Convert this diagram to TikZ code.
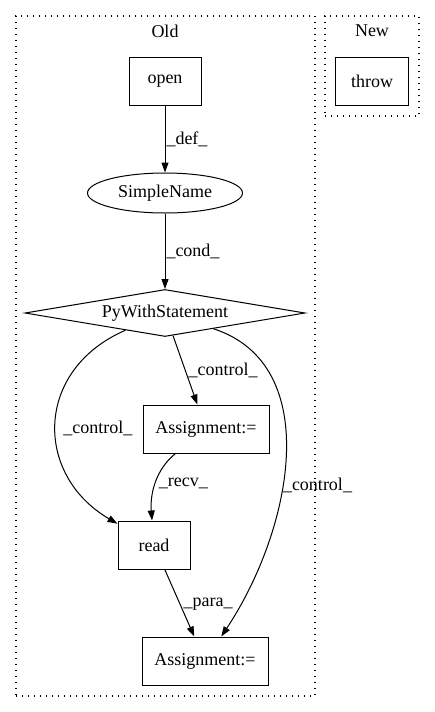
\documentclass[tikz,border=0pt]{standalone}
\usepackage{fontspec}
\setmainfont{Liberation Serif}
\usetikzlibrary{shapes.geometric,arrows.meta}
\begin{document}
\begin{tikzpicture}[x=1pt,y=-1pt,
  font=\fontsize{18}{20}\selectfont,
  every path/.style={line width=1pt},
  cluster/.style={draw, dash pattern=on 1pt off 5pt, line width=1.1pt, inner sep=0, minimum width=#1},
  box/.style={draw, rectangle, inner sep=0, minimum height=48pt, minimum width=#1},
  ell/.style={draw, ellipse, inner sep=0, minimum width=155pt, minimum height=40pt},
  dia/.style={draw, diamond, aspect=6, inner sep=0, minimum width=280pt, minimum height=47pt},
  edge/.style={draw, -{Triangle[length=10pt,width=7pt]}},
  lab/.style={inner sep=0pt, anchor=west}
]
\useasboundingbox (0,0) rectangle (435,712);
% clusters
\node[cluster=299pt, minimum height=680pt] (old) at (165.5,356) {};
\node[cluster=94pt, minimum height=100pt] (new) at (372,66) {};
\node (oldt) at (165,31) {Old};
\node (newt) at (372,31) {New};
% nodes
\node[box=72pt] (open) at (165,81) {open};
\node[box=73pt] (throw) at (372,81) {throw};
\node[ell] (sn) at (165,193) {SimpleName};
\node[dia] (pw) at (165,313) {PyWithStatement};
\node[box=126pt] (a1) at (206,429) {Assignment:=};
\node[box=72pt] (read) at (154,545) {read};
\node[box=126pt] (a2) at (205,661) {Assignment:=};
% edges
\path[edge] (open) -- node[lab, pos=0.51, xshift=1pt] {\_def\_} (sn);
\path[edge] (sn) -- node[lab, pos=0.5, xshift=1pt] {\_cond\_} (pw);
\path[edge] (pw) -- node[lab, pos=0.5, xshift=3pt] {\_control\_} (a1);
\path[edge] (pw) .. controls (34,370) and (34,475) .. node[lab, pos=0.52, xshift=7pt] {\_control\_} (read);
\path[edge] (pw) .. controls (325,365) and (292,530) .. node[lab, pos=0.58, xshift=0pt] {\_control\_} (a2);
\path[edge] (a1) .. controls (155,470) and (150,495) .. node[lab, pos=0.5, xshift=3pt] {\_recv\_} (read);
\path[edge] (read) -- node[lab, pos=0.52, xshift=3pt] {\_para\_} (a2);
\end{tikzpicture}
\end{document}
